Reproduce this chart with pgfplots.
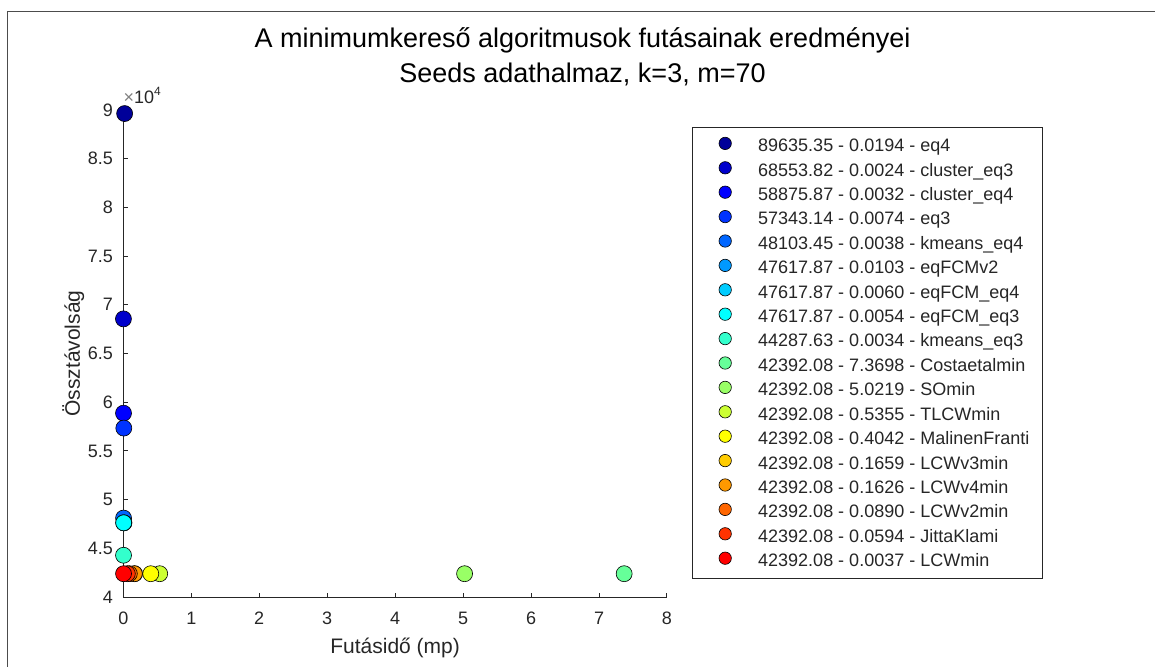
\documentclass[border=0pt]{standalone}
\usepackage{fontspec}
\setmainfont{Liberation Sans}
\usepackage{pgfplots}
\pgfplotsset{compat=1.18}
\definecolor{axgray}{gray}{0.15}
\definecolor{framegray}{gray}{0.3}
\definecolor{c1}{rgb}{0,0,0.6}
\definecolor{c2}{rgb}{0,0,0.8}
\definecolor{c3}{rgb}{0,0,1}
\definecolor{c4}{rgb}{0,0.2,1}
\definecolor{c5}{rgb}{0,0.4,1}
\definecolor{c6}{rgb}{0,0.6,1}
\definecolor{c7}{rgb}{0,0.8,1}
\definecolor{c8}{rgb}{0,1,1}
\definecolor{c9}{rgb}{0.2,1,0.8}
\definecolor{c10}{rgb}{0.4,1,0.6}
\definecolor{c11}{rgb}{0.6,1,0.4}
\definecolor{c12}{rgb}{0.8,1,0.2}
\definecolor{c13}{rgb}{1,1,0}
\definecolor{c14}{rgb}{1,0.8,0}
\definecolor{c15}{rgb}{1,0.6,0}
\definecolor{c16}{rgb}{1,0.4,0}
\definecolor{c17}{rgb}{1,0.2,0}
\definecolor{c18}{rgb}{1,0,0}
\pgfplotsset{
  pt/.style={only marks, mark=*, mark size=4pt, mark options={fill=#1, draw=black, line width=0.3pt}},
}
\begin{document}
\begin{tikzpicture}[x=1pt,y=1pt]
\useasboundingbox (0,0) rectangle (577.5,333);
\draw[framegray, line width=0.6pt] (3.65,-2) -- (3.65,327.15) -- (580,327.15);
\begin{axis}[
  at={(61.65pt,34.5pt)}, anchor=south west,
  scale only axis, width=271.85pt, height=243.5pt,
  xmin=0, xmax=8, ymin=40000, ymax=90000,
  clip=false,
  axis lines=left,
  axis line style={-, axgray, line width=0.5pt},
  tick align=inside, major tick length=2.2pt,
  tick style={axgray, line width=0.5pt},
  xtick={0,1,...,8},
  ytick={40000,45000,50000,55000,60000,65000,70000,75000,80000,85000,90000},
  scaled y ticks=base 10:-4,
  ytick scale label code/.code={{\color{gray}×}10\textsuperscript{4}},
  every y tick scale label/.style={at={(rel axis cs:0,1)}, anchor=base west, inner sep=0pt, yshift=3.5pt, text=axgray, font=\fontsize{9}{10}\selectfont},
  /pgf/number format/assume math mode=true,
  ticklabel style={font=\fontsize{9}{10}\selectfont, text=axgray, inner sep=0pt},
  yticklabel shift=5pt,
  xticklabel shift=7.3pt,
  label style={font=\fontsize{10.5}{12}\selectfont, text=axgray},
  xlabel={Futásidő (mp)},
  ylabel={Össztávolság},
  xlabel style={at={(axis description cs:0.5,-0.117)}, anchor=base},
  ylabel style={at={(axis description cs:-0.08,0.5)}, anchor=base},
  legend style={at={(1.046,0.9645)}, anchor=north west, draw=axgray, line width=0.5pt, fill=white,
    inner xsep=6.5pt, inner ysep=2.8pt, row sep=0pt,
    font=\fontsize{9}{10}\selectfont, text=axgray,
    nodes={inner sep=0pt, text height=9.2pt, text depth=3pt},
    /tikz/every odd column/.style={column sep=13.4pt}},
  legend cell align=left,
  legend image code/.code={\path[draw=none,fill=none] (-9.85pt,1.0pt) rectangle (3.1pt,1.2pt);\draw[mark size=3.1pt] plot coordinates {(0pt,1.1pt)};},
]
\addplot[pt=c1] coordinates {(0.0194,89635.35)};
\addlegendentry{89635.35 - 0.0194 - eq4}
\addplot[pt=c2] coordinates {(0.0024,68553.82)};
\addlegendentry{68553.82 - 0.0024 - cluster\_eq3}
\addplot[pt=c3] coordinates {(0.0032,58875.87)};
\addlegendentry{58875.87 - 0.0032 - cluster\_eq4}
\addplot[pt=c4] coordinates {(0.0074,57343.14)};
\addlegendentry{57343.14 - 0.0074 - eq3}
\addplot[pt=c5] coordinates {(0.0038,48103.45)};
\addlegendentry{48103.45 - 0.0038 - kmeans\_eq4}
\addplot[pt=c6] coordinates {(0.0103,47617.87)};
\addlegendentry{47617.87 - 0.0103 - eqFCMv2}
\addplot[pt=c7] coordinates {(0.0060,47617.87)};
\addlegendentry{47617.87 - 0.0060 - eqFCM\_eq4}
\addplot[pt=c8] coordinates {(0.0054,47617.87)};
\addlegendentry{47617.87 - 0.0054 - eqFCM\_eq3}
\addplot[pt=c9] coordinates {(0.0034,44287.63)};
\addlegendentry{44287.63 - 0.0034 - kmeans\_eq3}
\addplot[pt=c10] coordinates {(7.3698,42392.08)};
\addlegendentry{42392.08 - 7.3698 - Costaetalmin}
\addplot[pt=c11] coordinates {(5.0219,42392.08)};
\addlegendentry{42392.08 - 5.0219 - SOmin}
\addplot[pt=c12] coordinates {(0.5355,42392.08)};
\addlegendentry{42392.08 - 0.5355 - TLCWmin}
\addplot[pt=c13] coordinates {(0.4042,42392.08)};
\addlegendentry{42392.08 - 0.4042 - MalinenFranti}
\addplot[pt=c14] coordinates {(0.1659,42392.08)};
\addlegendentry{42392.08 - 0.1659 - LCWv3min}
\addplot[pt=c15] coordinates {(0.1626,42392.08)};
\addlegendentry{42392.08 - 0.1626 - LCWv4min}
\addplot[pt=c16] coordinates {(0.0890,42392.08)};
\addlegendentry{42392.08 - 0.0890 - LCWv2min}
\addplot[pt=c17] coordinates {(0.0594,42392.08)};
\addlegendentry{42392.08 - 0.0594 - JittaKlami}
\addplot[pt=c18] coordinates {(0.0037,42392.08)};
\addlegendentry{42392.08 - 0.0037 - LCWmin}
\end{axis}
\node[anchor=base, font=\fontsize{13.5}{15}\selectfont] at (291.25,309) {A minimumkereső algoritmusok futásainak eredményei};
\node[anchor=base, font=\fontsize{13.5}{15}\selectfont] at (291.25,292) {Seeds adathalmaz, k=3, m=70};
\end{tikzpicture}
\end{document}
